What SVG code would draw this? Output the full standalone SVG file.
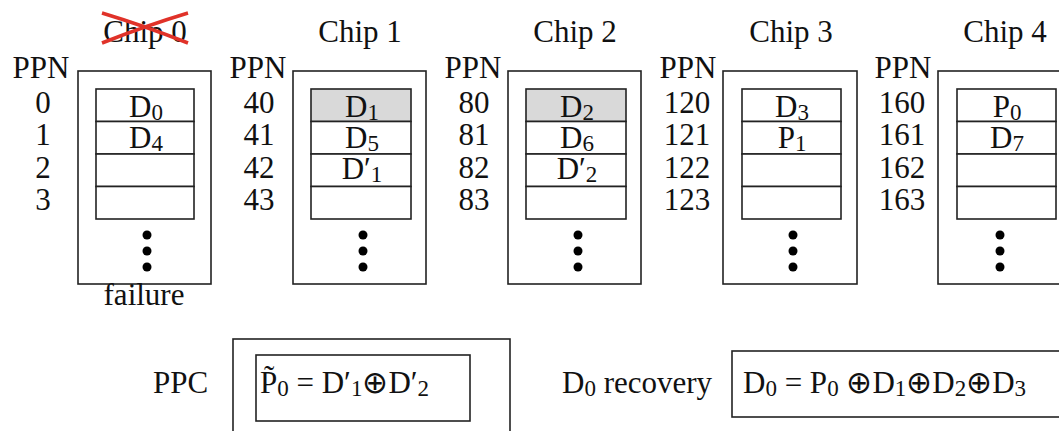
<svg xmlns="http://www.w3.org/2000/svg" width="1059" height="431" viewBox="0 0 1059 431">
<style>
text{font-family:"Liberation Serif","DejaVu Serif",serif;font-size:31px;fill:#111}
.m{text-anchor:middle}
.s{font-size:23px}
.x{font-family:"DejaVu Sans",sans-serif;font-weight:200;font-size:31px}
.box{fill:#fff;stroke:#222;stroke-width:1.6}
.g{fill:#d9d9d9;stroke:#222;stroke-width:1.6}
.dot{fill:#000}
</style>
<rect width="1059" height="431" fill="#fff"/>
<g id="chip0">
<text class="m" x="145" y="42">Chip 0</text>
<path d="M102,13 Q145,26 188,43 M102,43 Q145,26 188,13" stroke="#e03229" stroke-width="3.5" fill="none"/>
<text class="m" x="41" y="78">PPN</text>
<text class="m" x="43" y="113">0</text><text class="m" x="43" y="145">1</text><text class="m" x="43" y="178">2</text><text class="m" x="43" y="210">3</text>
<rect class="box" x="78" y="71" width="133" height="213"/>
<rect class="box" x="96" y="89" width="98" height="32.5"/>
<rect class="box" x="96" y="121.5" width="98" height="32.5"/>
<rect class="box" x="96" y="154" width="98" height="32.5"/>
<rect class="box" x="96" y="186.5" width="98" height="32.5"/>
<text class="m" x="146" y="117">D<tspan class="s" dy="3">0</tspan></text>
<text class="m" x="146" y="148">D<tspan class="s" dy="3">4</tspan></text>
<circle class="dot" cx="147" cy="235" r="4.5"/><circle class="dot" cx="147" cy="251" r="4.5"/><circle class="dot" cx="147" cy="267" r="4.5"/>
<text class="m" x="144" y="305">failure</text>
</g>
<g id="chip1">
<text class="m" x="360" y="42">Chip 1</text>
<text class="m" x="258" y="78">PPN</text>
<text class="m" x="259" y="113">40</text><text class="m" x="259" y="145">41</text><text class="m" x="259" y="178">42</text><text class="m" x="259" y="210">43</text>
<rect class="box" x="293" y="71" width="133" height="213"/>
<rect class="g" x="311" y="89" width="100" height="32.5"/>
<rect class="box" x="311" y="121.5" width="100" height="32.5"/>
<rect class="box" x="311" y="154" width="100" height="32.5"/>
<rect class="box" x="311" y="186.5" width="100" height="32.5"/>
<text class="m" x="362" y="117">D<tspan class="s" dy="3">1</tspan></text>
<text class="m" x="362" y="148">D<tspan class="s" dy="3">5</tspan></text>
<text class="m" x="362" y="179">D′<tspan class="s" dy="3">1</tspan></text>
<circle class="dot" cx="363" cy="235" r="4.5"/><circle class="dot" cx="363" cy="251" r="4.5"/><circle class="dot" cx="363" cy="267" r="4.5"/>
</g>
<g id="chip2">
<text class="m" x="575" y="42">Chip 2</text>
<text class="m" x="473" y="78">PPN</text>
<text class="m" x="474" y="113">80</text><text class="m" x="474" y="145">81</text><text class="m" x="474" y="178">82</text><text class="m" x="474" y="210">83</text>
<rect class="box" x="508" y="71" width="133" height="213"/>
<rect class="g" x="526" y="89" width="100" height="32.5"/>
<rect class="box" x="526" y="121.5" width="100" height="32.5"/>
<rect class="box" x="526" y="154" width="100" height="32.5"/>
<rect class="box" x="526" y="186.5" width="100" height="32.5"/>
<text class="m" x="577" y="117">D<tspan class="s" dy="3">2</tspan></text>
<text class="m" x="577" y="148">D<tspan class="s" dy="3">6</tspan></text>
<text class="m" x="577" y="179">D′<tspan class="s" dy="3">2</tspan></text>
<circle class="dot" cx="578" cy="235" r="4.5"/><circle class="dot" cx="578" cy="251" r="4.5"/><circle class="dot" cx="578" cy="267" r="4.5"/>
</g>
<g id="chip3">
<text class="m" x="791" y="42">Chip 3</text>
<text class="m" x="688" y="78">PPN</text>
<text class="m" x="687" y="113">120</text><text class="m" x="687" y="145">121</text><text class="m" x="687" y="178">122</text><text class="m" x="687" y="210">123</text>
<rect class="box" x="723" y="71" width="134" height="213"/>
<rect class="box" x="742" y="89" width="99" height="32.5"/>
<rect class="box" x="742" y="121.5" width="99" height="32.5"/>
<rect class="box" x="742" y="154" width="99" height="32.5"/>
<rect class="box" x="742" y="186.5" width="99" height="32.5"/>
<text class="m" x="792" y="117">D<tspan class="s" dy="3">3</tspan></text>
<text class="m" x="792" y="148">P<tspan class="s" dy="3">1</tspan></text>
<circle class="dot" cx="793" cy="235" r="4.5"/><circle class="dot" cx="793" cy="251" r="4.5"/><circle class="dot" cx="793" cy="267" r="4.5"/>
</g>
<g id="chip4">
<text class="m" x="1005" y="42">Chip 4</text>
<text class="m" x="903" y="78">PPN</text>
<text class="m" x="902" y="113">160</text><text class="m" x="902" y="145">161</text><text class="m" x="902" y="178">162</text><text class="m" x="902" y="210">163</text>
<rect class="box" x="938" y="71" width="134" height="213"/>
<rect class="box" x="957" y="89" width="99" height="32.5"/>
<rect class="box" x="957" y="121.5" width="99" height="32.5"/>
<rect class="box" x="957" y="154" width="99" height="32.5"/>
<rect class="box" x="957" y="186.5" width="99" height="32.5"/>
<text class="m" x="1007" y="117">P<tspan class="s" dy="3">0</tspan></text>
<text class="m" x="1007" y="148">D<tspan class="s" dy="3">7</tspan></text>
<circle class="dot" cx="1000" cy="235" r="4.5"/><circle class="dot" cx="1000" cy="251" r="4.5"/><circle class="dot" cx="1000" cy="267" r="4.5"/>
</g>
<g id="ppc">
<text x="153" y="393">PPC</text>
<rect class="box" x="233" y="339" width="277" height="100"/>
<rect class="box" x="256" y="355" width="214" height="66"/>
<text x="260" y="393">P̃<tspan class="s" dy="3">0</tspan><tspan dy="-3"> = D′</tspan><tspan class="s" dy="3">1</tspan><tspan class="x" dy="-3">⊕</tspan><tspan>D′</tspan><tspan class="s" dy="3">2</tspan></text>
</g>
<g id="recovery">
<text x="562" y="393">D<tspan class="s" dy="3">0</tspan><tspan dy="-3"> recovery</tspan></text>
<rect class="box" x="732" y="351" width="340" height="66"/>
<text x="743" y="393">D<tspan class="s" dy="3">0</tspan><tspan dy="-3"> = P</tspan><tspan class="s" dy="3">0</tspan><tspan dy="-3"> </tspan><tspan class="x">⊕</tspan><tspan>D</tspan><tspan class="s" dy="3">1</tspan><tspan class="x" dy="-3">⊕</tspan><tspan>D</tspan><tspan class="s" dy="3">2</tspan><tspan class="x" dy="-3">⊕</tspan><tspan>D</tspan><tspan class="s" dy="3">3</tspan></text>
</g>
<g id="connectors"></g>
</svg>
